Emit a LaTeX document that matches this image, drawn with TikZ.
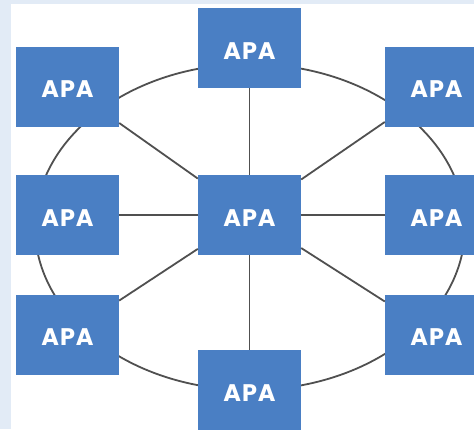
\documentclass[tikz,border=0pt]{standalone}
\usepackage{fontspec}
\setsansfont{Poppins}[LetterSpace=4]
\usetikzlibrary{positioning}
\definecolor{apablue}{HTML}{4A7FC4}
\definecolor{framebg}{HTML}{E2EBF6}
\definecolor{linkgray}{HTML}{505050}
\tikzset{
  apa/.style={rectangle, fill=apablue, text=white, minimum width=103pt, minimum height=80pt,
              inner sep=0pt, text height=22pt, text depth=0pt,
              font=\sffamily\bfseries\fontsize{24}{24}\selectfont},
  ring/.style={draw=linkgray, line width=1.8pt},
  link/.style={draw=linkgray, line width=1.8pt},
}

\begin{document}
\begin{tikzpicture}[x=1pt,y=-1pt]
  \useasboundingbox (0,0) rectangle (474,429);
  \fill[framebg] (0,0) rectangle (474,429);
  \fill[white] (11,4) rectangle (474,429);
  \begin{scope}
  \clip (0,0) rectangle (474,429);
  \draw[ring] (250,227) ellipse [x radius=215, y radius=163];

  \node[apa] (c) at (249.5,215) {APA};
  \node[apa] (n) at (249.5,48) {APA};
  \node[apa] (s) at (249.5,390) {APA};
  \node[apa] (w) at (67.5,215) {APA};
  \node[apa] (e) at (436.5,215) {APA};
  \node[apa] (nw) at (67.5,86.5) {APA};
  \node[apa] (ne) at (436.5,86.5) {APA};
  \node[apa] (sw) at (67.5,334.5) {APA};
  \node[apa] (se) at (436.5,334.5) {APA};

  \draw[link] (c) -- (n);
  \draw[link] (c) -- (s);
  \draw[link] (c) -- (w);
  \draw[link] (c) -- (e);
  \draw[link] (c) -- (nw);
  \draw[link] (c) -- (ne);
  \draw[link] (c) -- (sw);
  \draw[link] (c) -- (se);
  \end{scope}
\end{tikzpicture}
\end{document}
